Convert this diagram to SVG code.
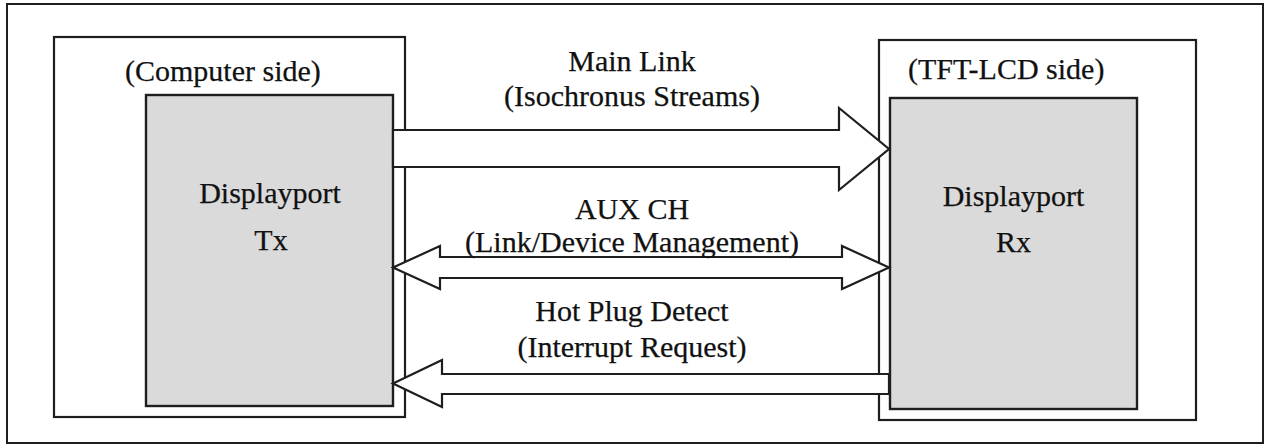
<svg xmlns="http://www.w3.org/2000/svg" width="1268" height="446" viewBox="0 0 1268 446">
  <style>
    .frame { fill: #ffffff; stroke: #1e1e1e; stroke-width: 2; }
    .box { fill: #ffffff; stroke: #1e1e1e; stroke-width: 2.2; }
    .chip { fill: #dadada; stroke: #1e1e1e; stroke-width: 2.4; }
    .arrow { fill: #ffffff; stroke: #1e1e1e; stroke-width: 2.2; stroke-linejoin: miter; }
    text { font-family: "Liberation Serif", "Times New Roman", serif; font-size: 30px; fill: #111111; stroke: #111111; stroke-width: 0.25; }
    .mid { text-anchor: middle; }
  </style>
  <rect x="0" y="0" width="1268" height="446" fill="#ffffff"/>
  <rect id="frame" class="frame" x="7" y="4" width="1256" height="439"/>

  <g id="computer-side">
    <rect class="box" x="54" y="37" width="351" height="380"/>
    <text x="125" y="81">(Computer side)</text>
  </g>
  <g id="displayport-tx">
    <rect class="chip" x="146" y="95" width="247" height="311"/>
    <text class="mid" x="270" y="203">Displayport</text>
    <text class="mid" x="271" y="250">Tx</text>
  </g>

  <g id="tft-lcd-side">
    <rect class="box" x="879" y="40" width="317" height="380"/>
    <text x="908" y="79">(TFT-LCD side)</text>
  </g>
  <g id="displayport-rx">
    <rect class="chip" x="890" y="98" width="247" height="311"/>
    <text class="mid" x="1013.5" y="206">Displayport</text>
    <text class="mid" x="1013.5" y="252">Rx</text>
  </g>

  <g id="connectors">
    <g id="main-link">
      <polygon class="arrow" points="393,130 839,130 839,108 889,149 839,190 839,167 393,167"/>
      <text class="mid" x="632" y="71">Main Link</text>
      <text class="mid" x="632" y="106">(Isochronus Streams)</text>
    </g>
    <g id="aux-ch">
      <polygon class="arrow" points="393,267.5 440,246 440,257 842,257 842,246 889,267.5 842,289 842,278 440,278 440,289"/>
      <text class="mid" x="632" y="219">AUX CH</text>
      <text class="mid" x="632" y="252">(Link/Device Management)</text>
    </g>
    <g id="hot-plug">
      <polygon class="arrow" points="393,383.5 442,360 442,374 889,374 889,394 442,394 442,407"/>
      <text class="mid" x="632" y="321">Hot Plug Detect</text>
      <text class="mid" x="632" y="357">(Interrupt Request)</text>
    </g>
  </g>
</svg>
